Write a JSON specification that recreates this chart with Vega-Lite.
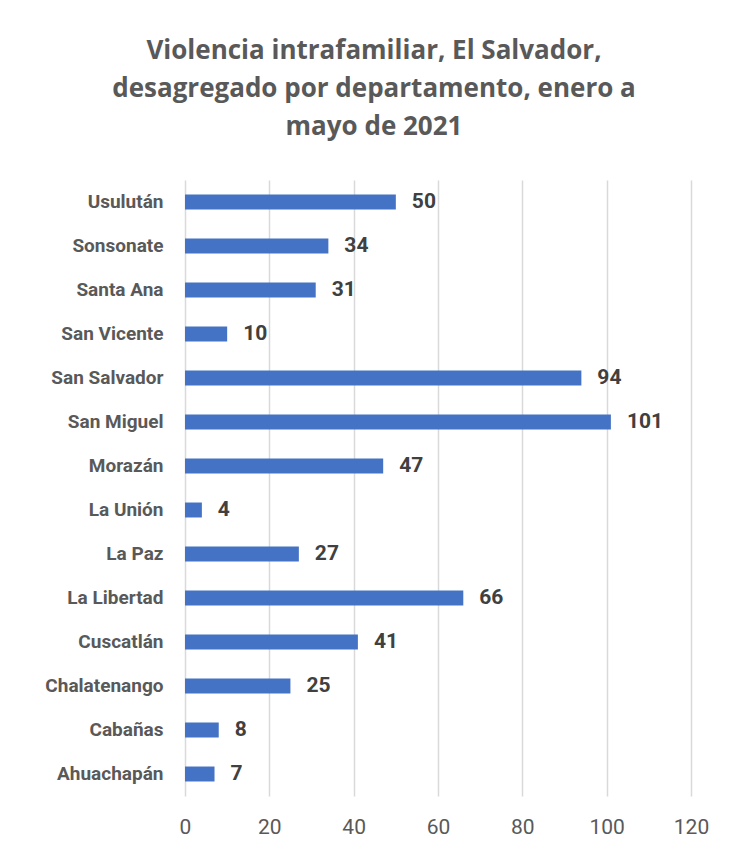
{
  "$schema": "https://vega.github.io/schema/vega-lite/v6.json",
  "autosize": "none",
  "padding": {"left": 185, "top": 180, "right": 38, "bottom": 56},
  "width": 506,
  "height": 616,
  "background": "white",
  "title": {
    "text": ["Violencia intrafamiliar, El Salvador,", "desagregado por departamento, enero a", "mayo de 2021"],
    "font": "Open Sans",
    "fontSize": 26,
    "fontWeight": "bold",
    "color": "#595959",
    "anchor": "middle",
    "dx": -64,
    "offset": 40,
    "lineHeight": 38
  },
  "data": {
    "values": [
      {"departamento": "Usulután", "casos": 50},
      {"departamento": "Sonsonate", "casos": 34},
      {"departamento": "Santa Ana", "casos": 31},
      {"departamento": "San Vicente", "casos": 10},
      {"departamento": "San Salvador", "casos": 94},
      {"departamento": "San Miguel", "casos": 101},
      {"departamento": "Morazán", "casos": 47},
      {"departamento": "La Unión", "casos": 4},
      {"departamento": "La Paz", "casos": 27},
      {"departamento": "La Libertad", "casos": 66},
      {"departamento": "Cuscatlán", "casos": 41},
      {"departamento": "Chalatenango", "casos": 25},
      {"departamento": "Cabañas", "casos": 8},
      {"departamento": "Ahuachapán", "casos": 7}
    ]
  },
  "encoding": {
    "y": {
      "field": "departamento",
      "type": "nominal",
      "sort": null,
      "scale": {"paddingInner": 0.66, "paddingOuter": 0.33},
      "axis": {
        "title": null,
        "domain": false,
        "ticks": false,
        "labelPadding": 22,
        "labelFont": "Roboto",
        "labelFontSize": 19,
        "labelFontWeight": "bold",
        "labelColor": "#595959"
      }
    },
    "x": {
      "field": "casos",
      "type": "quantitative",
      "scale": {"domain": [0, 120], "nice": false},
      "axis": {
        "title": null,
        "values": [0, 20, 40, 60, 80, 100, 120],
        "domain": false,
        "ticks": false,
        "grid": true,
        "gridColor": "#d9d9d9",
        "gridWidth": 1.5,
        "labelFlush": false,
        "labelPadding": 20,
        "labelFont": "Roboto",
        "labelFontSize": 21,
        "labelColor": "#595959"
      }
    }
  },
  "layer": [
    {"mark": {"type": "bar", "color": "#4472C4"}},
    {
      "mark": {"type": "text", "align": "left", "baseline": "middle", "dx": 16, "font": "Roboto", "fontSize": 21, "fontWeight": "bold", "color": "#404040"},
      "encoding": {"text": {"field": "casos", "type": "quantitative"}}
    }
  ],
  "config": {"view": {"stroke": null}}
}
